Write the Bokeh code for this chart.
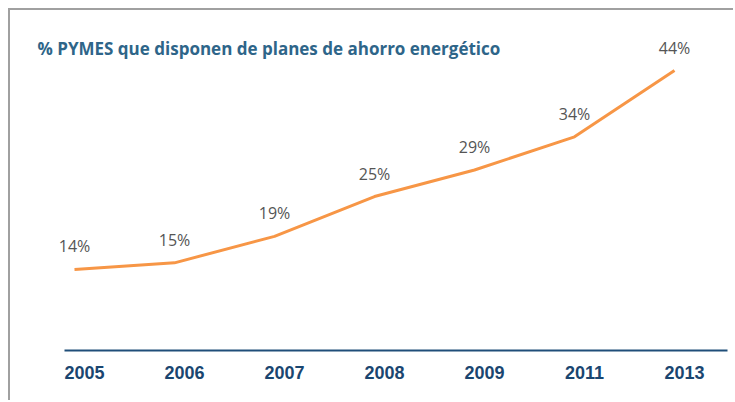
from bokeh.plotting import figure
from bokeh.models import ColumnDataSource, Range1d, FixedTicker, Label, LabelSet
from bokeh.transform import dodge
from bokeh.core.properties import value
from bokeh.embed import file_html
from bokeh.resources import INLINE

years = ["2005", "2006", "2007", "2008", "2009", "2011", "2013"]
values = [14, 15, 19, 25, 29, 34, 44]
labels = [f"{v}%" for v in values]
title_text = "% PYMES que disponen de  planes de ahorro energético"

idx = list(range(len(years)))
source = ColumnDataSource(dict(i=idx, v=values, lab=labels))

p = figure(width=725, height=392, output_backend="svg", toolbar_location=None,
           x_range=Range1d(-0.74, 6.51), y_range=Range1d(1.78, 53.06),
           y_axis_location=None, min_border_left=0, min_border_right=0,
           min_border_top=0, min_border_bottom=52)
p.styles = {"border-top": "2px solid #a0a0a0", "border-left": "2px solid #a0a0a0",
            "margin-left": "8px", "margin-top": "8px",
            "margin-right": "-16px", "margin-bottom": "-16px"}
p.outline_line_color = None
p.xgrid.visible = False
p.ygrid.visible = False

ax = p.xaxis[0]
ax.ticker = FixedTicker(ticks=idx)
ax.bounds = (-0.2, 6.43)
ax.major_label_overrides = {i: y for i, y in zip(idx, years)}
ax.axis_line_color = "#1f4e79"
ax.axis_line_width = 2
ax.major_tick_line_color = None
ax.minor_tick_line_color = None
ax.major_label_text_font = "Liberation Sans"
ax.major_label_text_font_style = "bold"
ax.major_label_text_font_size = "18px"
ax.major_label_text_color = "#1a4670"
ax.major_label_standoff = 9

p.line(x=dodge("i", -0.1, range=p.x_range), y="v", source=source,
       line_color="#f79646", line_width=3)

ls = LabelSet(x=dodge("i", -0.1, range=p.x_range), y="v", text="lab", source=source,
              text_font=value("Open Sans"), text_font_size="16px", text_color="#555555",
              text_align="center", text_baseline="middle", y_offset=23)
p.add_layout(ls)

p.add_layout(Label(x=27, y=302, x_units="screen", y_units="screen", text=title_text,
                   text_font="Open Sans", text_font_style="bold", text_font_size="17px",
                   text_color="#2e6589", text_baseline="alphabetic"))

open("out.html", "w").write(file_html(p, INLINE))
